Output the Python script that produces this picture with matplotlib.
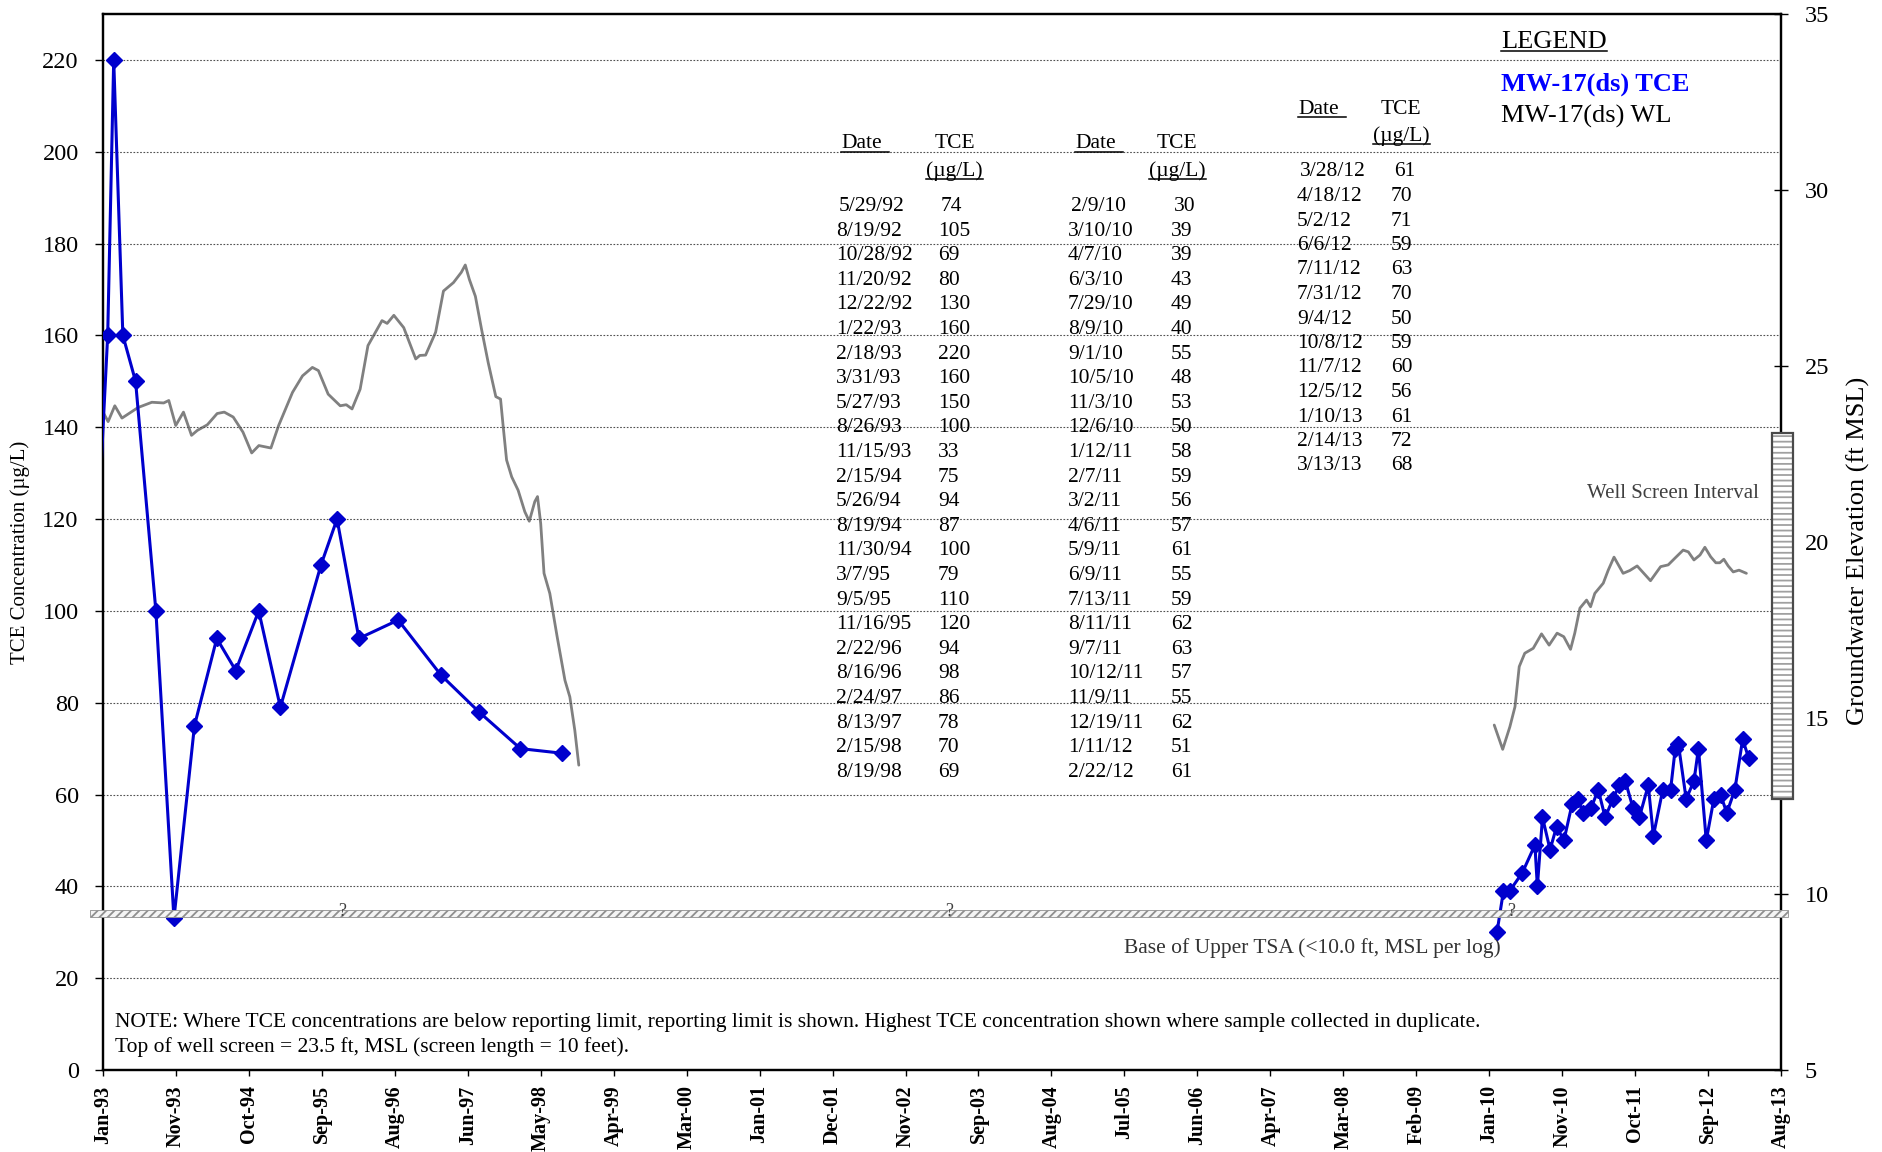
import matplotlib
matplotlib.use('Agg')
import matplotlib.pyplot as plt
from matplotlib.patches import Rectangle
from matplotlib.lines import Line2D
from matplotlib.transforms import blended_transform_factory
from datetime import datetime, timedelta

plt.rcParams['font.family'] = ['Liberation Serif', 'DejaVu Serif']
plt.rcParams['hatch.linewidth'] = 1.3

W, H = 1883, 1152

# ---------------- data ----------------
table1_dates = ['5/29/92', '8/19/92', '10/28/92', '11/20/92', '12/22/92', '1/22/93', '2/18/93',
                '3/31/93', '5/27/93', '8/26/93', '11/15/93', '2/15/94', '5/26/94', '8/19/94',
                '11/30/94', '3/7/95', '9/5/95', '11/16/95', '2/22/96', '8/16/96', '2/24/97',
                '8/13/97', '2/15/98', '8/19/98']
table1_tce = [74, 105, 69, 80, 130, 160, 220, 160, 150, 100, 33, 75, 94, 87, 100, 79, 110, 120,
              94, 98, 86, 78, 70, 69]

table2_dates = ['2/9/10', '3/10/10', '4/7/10', '6/3/10', '7/29/10', '8/9/10', '9/1/10', '10/5/10',
                '11/3/10', '12/6/10', '1/12/11', '2/7/11', '3/2/11', '4/6/11', '5/9/11', '6/9/11',
                '7/13/11', '8/11/11', '9/7/11', '10/12/11', '11/9/11', '12/19/11', '1/11/12',
                '2/22/12']
table2_tce = [30, 39, 39, 43, 49, 40, 55, 48, 53, 50, 58, 59, 56, 57, 61, 55, 59, 62, 63, 57, 55,
              62, 51, 61]

table3_dates = ['3/28/12', '4/18/12', '5/2/12', '6/6/12', '7/11/12', '7/31/12', '9/4/12',
                '10/8/12', '11/7/12', '12/5/12', '1/10/13', '2/14/13', '3/13/13']
table3_tce = [61, 70, 71, 59, 63, 70, 50, 59, 60, 56, 61, 72, 68]

# groundwater level (ft MSL), decimal years
wl1_year = [1993.000, 1993.063, 1993.145, 1993.233, 1993.430, 1993.600, 1993.745, 1993.808,
            1993.893, 1993.988, 1994.087, 1994.158, 1994.281, 1994.402, 1994.489, 1994.599,
            1994.719, 1994.826, 1994.914, 1995.062, 1995.157, 1995.327, 1995.450, 1995.571,
            1995.645, 1995.765, 1995.913, 1995.987, 1996.058, 1996.157, 1996.253, 1996.425,
            1996.488, 1996.570, 1996.691, 1996.838, 1996.888, 1996.959, 1997.082, 1997.178,
            1997.301, 1997.397, 1997.446, 1997.496, 1997.570, 1997.646, 1997.728, 1997.821,
            1997.879, 1997.912, 1997.953, 1998.016, 1998.095, 1998.177, 1998.232, 1998.300,
            1998.333, 1998.372, 1998.413, 1998.484, 1998.574, 1998.670, 1998.730, 1998.791,
            1998.840]
wl1_ft = [23.69, 23.42, 23.87, 23.52, 23.82, 23.97, 23.95, 24.02,
          23.31, 23.69, 23.03, 23.17, 23.33, 23.65, 23.69, 23.55,
          23.12, 22.53, 22.74, 22.67, 23.31, 24.25, 24.72, 24.96,
          24.87, 24.20, 23.87, 23.90, 23.78, 24.34, 25.58, 26.29,
          26.21, 26.44, 26.09, 25.20, 25.30, 25.31, 25.96, 27.13,
          27.37, 27.66, 27.87, 27.46, 26.98, 26.04, 25.09, 24.13,
          24.06, 23.27, 22.33, 21.85, 21.47, 20.86, 20.59, 21.15,
          21.29, 20.53, 19.11, 18.54, 17.31, 16.07, 15.60, 14.65,
          13.66]

wl2_year = [2010.073, 2010.177, 2010.265, 2010.328, 2010.380, 2010.448, 2010.552, 2010.654,
            2010.747, 2010.845, 2010.927, 2011.010, 2011.062, 2011.125, 2011.207, 2011.256,
            2011.308, 2011.412, 2011.473, 2011.544, 2011.656, 2011.738, 2011.828, 2011.910,
            2011.992, 2012.116, 2012.209, 2012.291, 2012.392, 2012.455, 2012.524, 2012.598,
            2012.658, 2012.729, 2012.792, 2012.841, 2012.890, 2012.943, 2013.005, 2013.076,
            2013.167]
wl2_ft = [14.80, 14.11, 14.75, 15.32, 16.46, 16.84, 16.98, 17.39,
          17.07, 17.41, 17.31, 16.95, 17.41, 18.12, 18.35, 18.16,
          18.54, 18.83, 19.20, 19.57, 19.11, 19.19, 19.32, 19.11,
          18.90, 19.30, 19.35, 19.54, 19.77, 19.72, 19.49, 19.63,
          19.85, 19.58, 19.41, 19.41, 19.51, 19.32, 19.15, 19.20,
          19.11]

y_left_ticks = list(range(0, 221, 20))
y_right_ticks = list(range(5, 36, 5))
axis_start = datetime(1993, 1, 1)
tick_step_days = 327
n_ticks = 24

screen_top_ft = 23.1
screen_bottom_ft = 12.7
tsa_band = (33.3, 34.8)   # in TCE-axis units

BLUE = '#0000CD'
GRAY = '#808080'


def parse(s):
    return datetime.strptime(s, '%m/%d/%y')


def dec_year(y):
    base = datetime(int(y), 1, 1)
    nxt = datetime(int(y) + 1, 1, 1)
    return base + (nxt - base) * (y - int(y))


# ---------------- figure ----------------
fig = plt.figure(figsize=(W / 100, H / 100), dpi=100)
ax = fig.add_axes([103 / W, 1 - 1070 / H, 1678 / W, 1056 / H])
ax2 = ax.twinx()
ax.set_zorder(ax2.get_zorder() + 1)
ax.patch.set_visible(False)

xmin = axis_start
xmax = axis_start + timedelta(days=tick_step_days * (n_ticks - 1))
ax.set_xlim(xmin, xmax)
ax.set_ylim(0, 230)
ax2.set_ylim(5, 35)

# water level (grey)
for yrs, ft in ((wl1_year, wl1_ft), (wl2_year, wl2_ft)):
    ax2.plot([dec_year(v) for v in yrs], ft, color=GRAY, lw=2.0,
             solid_joinstyle='round', solid_capstyle='round', zorder=3)
ax2.set_xlim(xmin, xmax)

# TCE (blue): line through all samples, markers only for samples inside the date range
for dates, vals in ((table1_dates, table1_tce), (table2_dates + table3_dates, table2_tce + table3_tce)):
    xs = [parse(d) for d in dates]
    ax.plot(xs, vals, color=BLUE, lw=2.2, zorder=4, solid_joinstyle='round')
    inside = [(x, v) for x, v in zip(xs, vals) if xmin <= x <= xmax]
    ax.plot([p[0] for p in inside], [p[1] for p in inside], ls='none', marker='D', ms=8.5,
            mec=BLUE, mfc=BLUE, zorder=4)

# base of upper TSA band
btr = blended_transform_factory(ax.transAxes, ax.transData)
ax.add_patch(Rectangle((-0.008, tsa_band[0]), 1.012, tsa_band[1] - tsa_band[0], transform=btr,
                       facecolor='#f4f4f4', edgecolor='#8f8f8f', hatch='////', lw=0.6,
                       clip_on=False, zorder=6))

# well screen interval box
str_ = blended_transform_factory(ax.transAxes, ax2.transData)
ax.add_patch(Rectangle((0.9946, screen_bottom_ft), 0.0125, screen_top_ft - screen_bottom_ft,
                       transform=str_, facecolor='white', edgecolor='#a0a0a0', hatch='---',
                       lw=0, clip_on=False, zorder=7))
ax.add_patch(Rectangle((0.9946, screen_bottom_ft), 0.0125, screen_top_ft - screen_bottom_ft,
                       transform=str_, fill=False, edgecolor='#4a4a4a', lw=1.6,
                       clip_on=False, zorder=8))

# axes styling
ax.set_yticks(y_left_ticks)
ax2.set_yticks(y_right_ticks)
ticks = [axis_start + timedelta(days=tick_step_days * k) for k in range(n_ticks)]
ax.set_xticks(ticks)
ax.set_xticklabels([t.strftime('%b-%y') for t in ticks], rotation=90, fontweight='bold')
ax.yaxis.grid(True, linestyle=(0, (1.5, 1.5)), color='#505050', lw=0.8)
ax.tick_params(axis='y', labelsize=17.5, length=5.5, width=1, direction='out', pad=12)
ax.tick_params(axis='x', labelsize=14.5, length=4, width=1, direction='out', pad=7)
ax2.tick_params(axis='y', labelsize=17.5, length=10, width=1, direction='inout', pad=12)
for a in (ax, ax2):
    for sp in a.spines.values():
        sp.set_linewidth(1.6)
        sp.set_color('black')


def ftext(x, y, s, size, **kw):
    kw.setdefault('ha', 'left')
    kw.setdefault('va', 'center')
    return fig.text(x / W, 1 - y / H, s, fontsize=size, **kw)


def underline(t, extend=0.0, lw=1.1, color='black'):
    r = fig.canvas.get_renderer()
    bb = t.get_window_extent(renderer=r)
    fw, fh = fig.bbox.width, fig.bbox.height
    yy = bb.y0 + 0.1 * bb.height
    x1 = bb.x1 + extend * bb.width
    fig.add_artist(Line2D([bb.x0 / fw, x1 / fw], [yy / fh, yy / fh], transform=fig.transFigure,
                          color=color, lw=lw))


# axis titles
ftext(20, 552, 'TCE Concentration (µg/L)', 15, rotation=90, ha='center')
ftext(1858, 551, 'Groundwater Elevation (ft MSL)', 19, rotation=90, ha='center')

# legend
underline(ftext(1501, 42, 'LEGEND', 19))
ftext(1501, 84, 'MW-17(ds) TCE', 19, color='#0000FF', fontweight='bold')
ftext(1501, 116, 'MW-17(ds) WL', 19, color='black')

# data tables
TS = 15.5
tables = [
    (table1_dates, table1_tce, 836, 938, 841, 935, 926, 144, 171, 206.5, 24.6),
    (table2_dates, table2_tce, 1068, 1171, 1075, 1157, 1149, 144, 171, 206.5, 24.6),
    (table3_dates, table3_tce, 1297, 1391, 1298, 1381, 1373, 109, 136, 172, 24.5),
]
for dates, vals, xd, xv, hxd, hxv, hxu, hy1, hy2, y0, dy in tables:
    underline(ftext(hxd, hy1, 'Date', TS), extend=0.18)
    ftext(hxv, hy1, 'TCE', TS)
    underline(ftext(hxu, hy2, '(µg/L)', TS))
    for i, (d, v) in enumerate(zip(dates, vals)):
        off = 3 if i == 0 else 0
        ftext(xd + off, y0 + i * dy, d, TS)
        ftext(xv + off, y0 + i * dy, str(v), TS)

# annotations
ftext(1759, 493, 'Well Screen Interval', 15, ha='right', color='#404040')
ftext(1501, 948, 'Base of Upper TSA (<10.0 ft, MSL per log)', 15.5, ha='right', color='#333333')
for qx in (342, 949, 1511):
    ftext(qx, 911, '?', 13, ha='center', color='#404040', zorder=10)
ftext(115, 1023, 'NOTE: Where TCE concentrations are below reporting limit, reporting limit is shown. '
                 'Highest TCE concentration shown where sample collected in duplicate.', 15.5)
ftext(115, 1047, 'Top of well screen = 23.5 ft, MSL (screen length = 10 feet).', 15.5)

fig.savefig('out.png', dpi=100, facecolor='white')
